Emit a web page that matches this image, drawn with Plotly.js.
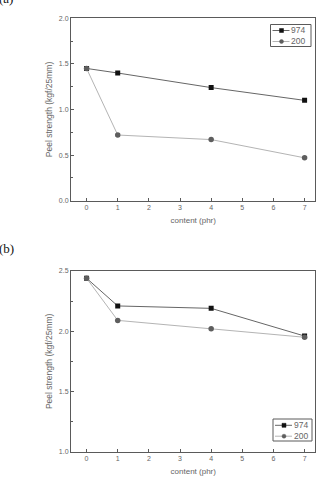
<!DOCTYPE html>
<html>
<head>
<meta charset="utf-8">
<script src="https://cdn.plot.ly/plotly-3.0.1.min.js"></script>
<style>
  html, body { margin: 0; padding: 0; background: #fff; }
  #chart { width: 322px; height: 480px; }
</style>
</head>
<body>
<div id="chart"></div>
<script>
// Peel strength vs. filler content, two test conditions
const contentPhr = [0, 1, 4, 7];
const xTicks = [0, 1, 2, 3, 4, 5, 6, 7];

// panel (a)
const peelA974 = [1.45, 1.40, 1.24, 1.10];
const peelA200 = [1.45, 0.72, 0.67, 0.47];

// panel (b)
const peelB974 = [2.44, 2.21, 2.19, 1.96];
const peelB200 = [2.44, 2.09, 2.02, 1.95];

const seriesNames = ['974', '200'];

const W = 322, H = 480;
const axisGray = '#5a5a5a';
const textGray = '#666';
const sans = 'Liberation Sans, Arial, sans-serif';
const serif = 'Liberation Serif, Times New Roman, serif';

// pixel -> paper helpers for the hand-drawn legends and panel labels
const px = v => v / W;
const py = v => 1 - v / H;

const styles = [
  { line: '#666', symbol: 'square', marker: '#111', shape: 'rect', size: 5 },
  { line: '#b4b4b4', symbol: 'circle', marker: '#5e5e5e', shape: 'circle', size: 5.5 }
];

function series(x, y, i, xa, ya) {
  const s = styles[i];
  return {
    x: x, y: y, name: seriesNames[i], xaxis: xa, yaxis: ya,
    type: 'scatter', mode: 'lines+markers', showlegend: false,
    line: { color: s.line, width: 1 },
    marker: { symbol: s.symbol, size: s.size, color: s.marker }
  };
}

const data = [
  series(contentPhr, peelA974, 0, 'x', 'y'),
  series(contentPhr, peelA200, 1, 'x', 'y'),
  series(contentPhr, peelB974, 0, 'x2', 'y2'),
  series(contentPhr, peelB200, 1, 'x2', 'y2')
];

function xAxis(domain, anchor) {
  return {
    domain: domain, anchor: anchor, range: [-0.5, 7.35],
    tickmode: 'array', tickvals: xTicks, ticktext: xTicks.map(String),
    ticks: 'inside', ticklen: 3, tickcolor: axisGray,
    showline: true, linecolor: axisGray, linewidth: 1, mirror: true,
    showgrid: false, zeroline: false,
    tickfont: { family: sans, size: 7, color: textGray },
    title: { text: 'content (phr)', standoff: 7, font: { family: sans, size: 8, color: textGray } }
  };
}

function yAxis(domain, anchor, range) {
  return {
    domain: domain, anchor: anchor, range: range,
    dtick: 0.5, tickformat: '.1f',
    ticks: 'inside', ticklen: 3, tickcolor: axisGray,
    minor: { dtick: 0.25, ticks: 'inside', ticklen: 2, tickcolor: axisGray, showgrid: false },
    showline: true, linecolor: axisGray, linewidth: 1, mirror: true,
    showgrid: false, zeroline: false,
    tickfont: { family: sans, size: 7, color: textGray },
    title: { text: 'Peel strength (kgf/25mm)', standoff: 4, font: { family: sans, size: 8.5, color: textGray } }
  };
}

// legend box drawn with shapes: left/top/right/bottom in pixels
function legendParts(l, t, r, b, rowsY) {
  const shapes = [{
    type: 'rect', xref: 'paper', yref: 'paper',
    x0: px(l), x1: px(r), y0: py(t), y1: py(b),
    line: { color: axisGray, width: 1 }, fillcolor: '#fff'
  }];
  const ann = [];
  rowsY.forEach((yy, i) => {
    const s = styles[i];
    shapes.push({
      type: 'line', xref: 'paper', yref: 'paper',
      x0: px(l + 2), x1: px(l + 19), y0: py(yy), y1: py(yy),
      line: { color: s.line, width: 1 }
    });
    const m = 2;
    const cx = l + 11;
    shapes.push({
      type: s.shape, xref: 'paper', yref: 'paper',
      x0: px(cx - m), x1: px(cx + m), y0: py(yy - m), y1: py(yy + m),
      line: { color: s.marker, width: 0.5 }, fillcolor: s.marker
    });
    ann.push({
      text: seriesNames[i], xref: 'paper', yref: 'paper',
      x: px(l + 19.5), y: py(yy), xanchor: 'left', yanchor: 'middle',
      showarrow: false, borderpad: 0,
      font: { family: sans, size: 8.5, color: textGray }
    });
  });
  return { shapes: shapes, ann: ann };
}

const legA = legendParts(270.5, 24.5, 311, 46.5, [30.5, 41.5]);
const legB = legendParts(273, 419, 312, 441, [425.3, 436.2]);

const layout = {
  width: W, height: H,
  margin: { l: 0, r: 0, t: 0, b: 0 },
  paper_bgcolor: '#fff', plot_bgcolor: '#fff',
  showlegend: false,
  xaxis: xAxis([0.2205, 0.9798], 'y'),
  yaxis: yAxis([0.5819, 0.9619], 'x', [0, 2.0]),
  xaxis2: xAxis([0.2205, 0.9798], 'y2'),
  yaxis2: yAxis([0.0590, 0.4354], 'x2', [1.0, 2.5]),
  shapes: legA.shapes.concat(legB.shapes),
  annotations: [
    { text: '(a)', x: px(-2), y: py(-1.5), xref: 'paper', yref: 'paper',
      xanchor: 'left', yanchor: 'middle', showarrow: false, borderpad: 0,
      font: { family: serif, size: 13, color: '#111' } },
    { text: '(b)', x: px(-2), y: py(248.5), xref: 'paper', yref: 'paper',
      xanchor: 'left', yanchor: 'middle', showarrow: false, borderpad: 0,
      font: { family: serif, size: 13, color: '#111' } }
  ].concat(legA.ann, legB.ann)
};

Plotly.newPlot('chart', data, layout, { displayModeBar: false, staticPlot: true });
</script>
</body>
</html>
